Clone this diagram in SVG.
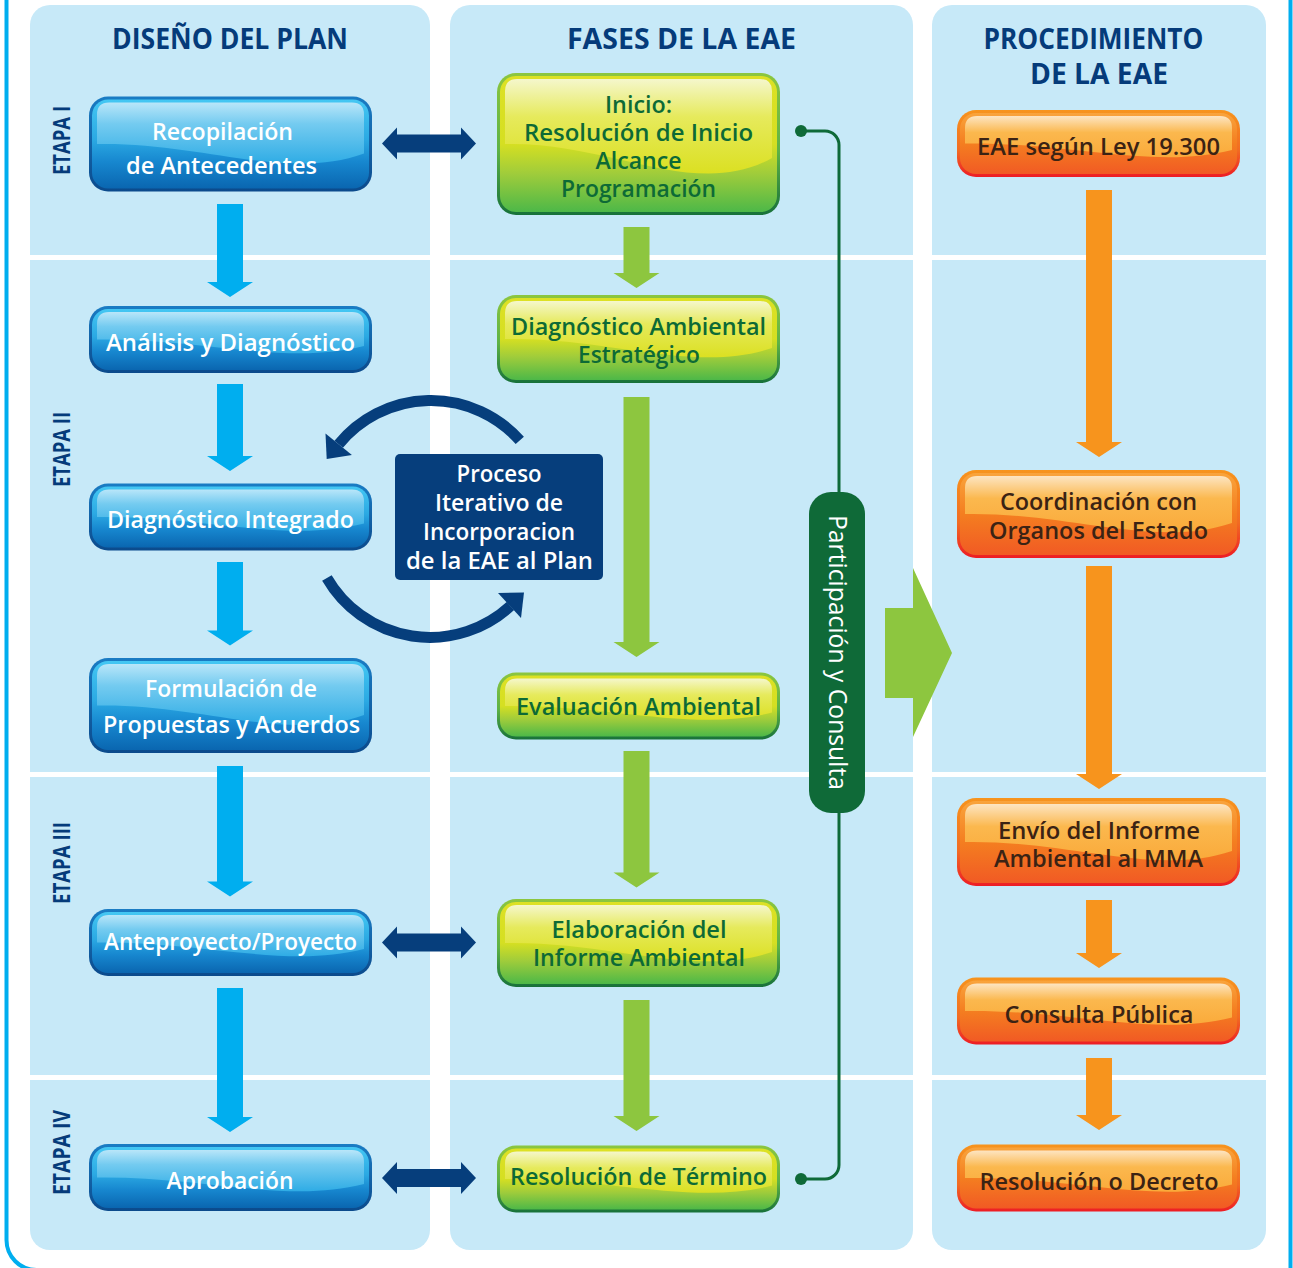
<svg xmlns="http://www.w3.org/2000/svg" xmlns:xlink="http://www.w3.org/1999/xlink" width="1293" height="1268" viewBox="0 0 1293 1268">
  <defs>
    <style>
      .panel{fill:#C7E9F8}
      .sep{fill:#FFFFFF}
      .ttl{font-family:"Open Sans","Liberation Sans",sans-serif;font-weight:700;font-size:28px;fill:#053B7A;text-anchor:middle}
      .etapa{font-family:"Open Sans","Liberation Sans",sans-serif;font-weight:700;font-size:24px;fill:#053B7A;text-anchor:middle}
      .t{font-family:"Open Sans","Liberation Sans",sans-serif;font-weight:600;font-size:24px;text-anchor:middle}
      .tb{fill:#FFFFFF}
      .tg{fill:#0D6A36}
      .to{fill:#3B2314}
      .tw{fill:#FFFFFF;font-size:23px}
      .ab{fill:#00AEEF}
      .ag{fill:#8DC63F}
      .ao{fill:#F7941D}
      .nv{fill:#063E7C}
      .arc{fill:none;stroke:#063E7C;stroke-width:11}
      .brk{fill:none;stroke:#0F6A38;stroke-width:3}
    </style>

    <!-- button colour ramps -->
    <linearGradient id="bEdge" x1="0" y1="0" x2="0" y2="1">
      <stop offset="0" stop-color="#1A7CC4"/><stop offset="1" stop-color="#0B4A8C"/>
    </linearGradient>
    <linearGradient id="bBase" x1="0" y1="0" x2="0" y2="1">
      <stop offset="0" stop-color="#44C7F3"/><stop offset="0.45" stop-color="#2BA9E3"/><stop offset="0.7" stop-color="#1787CF"/><stop offset="1" stop-color="#0A66B0"/>
    </linearGradient>
    <linearGradient id="bUp" x1="0" y1="0" x2="0" y2="1">
      <stop offset="0" stop-color="#B9E6F9"/><stop offset="0.35" stop-color="#74CBF0"/><stop offset="1" stop-color="#2FACE5"/>
    </linearGradient>

    <linearGradient id="gEdge" x1="0" y1="0" x2="0" y2="1">
      <stop offset="0" stop-color="#8CC63F"/><stop offset="0.55" stop-color="#5DB246"/><stop offset="1" stop-color="#17713A"/>
    </linearGradient>
    <linearGradient id="gBase" x1="0" y1="0" x2="0" y2="1">
      <stop offset="0" stop-color="#DDE124"/><stop offset="0.5" stop-color="#D5DF22"/><stop offset="0.72" stop-color="#9FCC3B"/><stop offset="1" stop-color="#4DB848"/>
    </linearGradient>
    <linearGradient id="gUp" x1="0" y1="0" x2="0" y2="1">
      <stop offset="0" stop-color="#F5F7CC"/><stop offset="0.4" stop-color="#E6EA5C"/><stop offset="1" stop-color="#DBE022"/>
    </linearGradient>

    <linearGradient id="oEdge" x1="0" y1="0" x2="0" y2="1">
      <stop offset="0" stop-color="#F7941D"/><stop offset="0.6" stop-color="#F26B22"/><stop offset="1" stop-color="#ED1C24"/>
    </linearGradient>
    <linearGradient id="oBase" x1="0" y1="0" x2="0" y2="1">
      <stop offset="0" stop-color="#F9A43C"/><stop offset="0.5" stop-color="#F47E20"/><stop offset="1" stop-color="#F15A24"/>
    </linearGradient>
    <linearGradient id="oUp" x1="0" y1="0" x2="0" y2="1">
      <stop offset="0" stop-color="#FDE5C2"/><stop offset="0.4" stop-color="#FBB84E"/><stop offset="1" stop-color="#FAAA3A"/>
    </linearGradient>

    <!-- button geometry, one set per height -->
    <rect id="o67" width="283" height="67" rx="19"/>
    <rect id="i67" x="3" y="3" width="277" height="61" rx="16"/>
    <path id="u67" d="M8 33.5V18Q8 6 20 6H263Q275 6 275 18V40C198 60 113 32 8 33.5Z"/>

    <rect id="o88" width="283" height="88" rx="19"/>
    <rect id="i88" x="3" y="3" width="277" height="82" rx="16"/>
    <path id="u88" d="M8 44V18Q8 6 20 6H263Q275 6 275 18V53C198 79 113 42 8 44Z"/>

    <rect id="o95" width="283" height="95" rx="19"/>
    <rect id="i95" x="3" y="3" width="277" height="89" rx="16"/>
    <path id="u95" d="M8 47.5V18Q8 6 20 6H263Q275 6 275 18V57C198 85 113 45.5 8 47.5Z"/>

    <rect id="o142" width="283" height="142" rx="19"/>
    <rect id="i142" x="3" y="3" width="277" height="136" rx="16"/>
    <path id="u142" d="M8 71V18Q8 6 20 6H263Q275 6 275 18V85C198 128 113 68 8 71Z"/>
  </defs>

  <rect width="1293" height="1268" fill="#FFFFFF"/>

  <!-- outer frame: rounded only at the lower left, the rest runs off the page -->
  <path d="M6.5 -5V1240A30 30 0 0 0 36.5 1270H1290.5V-5" fill="none" stroke="#00AEEF" stroke-width="4"/>

  <!-- column panels -->
  <g id="panels">
    <rect class="panel" x="30" y="5" width="400" height="1245" rx="20"/>
    <rect class="panel" x="450" y="5" width="463" height="1245" rx="20"/>
    <rect class="panel" x="932" y="5" width="334" height="1245" rx="20"/>
    <rect class="sep" x="28" y="255" width="1240" height="5"/>
    <rect class="sep" x="28" y="772" width="1240" height="5"/>
    <rect class="sep" x="28" y="1075" width="1240" height="5"/>
  </g>

  <!-- headings -->
  <g id="headings">
    <text class="ttl" x="230" y="48.5" textLength="236" lengthAdjust="spacingAndGlyphs">DISEÑO DEL PLAN</text>
    <text class="ttl" x="681.5" y="48.5" textLength="229" lengthAdjust="spacingAndGlyphs">FASES DE LA EAE</text>
    <text class="ttl" x="1093.5" y="48.5" textLength="220" lengthAdjust="spacingAndGlyphs">PROCEDIMIENTO</text>
    <text class="ttl" x="1099" y="83.5" textLength="138" lengthAdjust="spacingAndGlyphs">DE LA EAE</text>
  </g>

  <!-- stage labels -->
  <g id="etapas">
    <text class="etapa" transform="translate(69.5 140.5) rotate(-90)" textLength="69" lengthAdjust="spacingAndGlyphs">ETAPA I</text>
    <text class="etapa" transform="translate(69.5 449.5) rotate(-90)" textLength="75" lengthAdjust="spacingAndGlyphs">ETAPA II</text>
    <text class="etapa" transform="translate(69.5 863) rotate(-90)" textLength="82" lengthAdjust="spacingAndGlyphs">ETAPA III</text>
    <text class="etapa" transform="translate(69.5 1152.5) rotate(-90)" textLength="85" lengthAdjust="spacingAndGlyphs">ETAPA IV</text>
  </g>

  <!-- connectors -->
  <g id="connectors">
    <!-- plan column -->
    <polygon class="ab" points="217,204 243,204 243,282 253,282 230,297 207,282 217,282"/>
    <polygon class="ab" points="217,384 243,384 243,456 253,456 230,471 207,456 217,456"/>
    <polygon class="ab" points="217,562 243,562 243,630.5 253,630.5 230,645.5 207,630.5 217,630.5"/>
    <polygon class="ab" points="217,766 243,766 243,881.5 253,881.5 230,896.5 207,881.5 217,881.5"/>
    <polygon class="ab" points="217,988 243,988 243,1117 253,1117 230,1132 207,1117 217,1117"/>

    <!-- EAE phases column -->
    <polygon class="ag" points="623.5,227 649.5,227 649.5,273 659.5,273 636.5,288 613.5,273 623.5,273"/>
    <polygon class="ag" points="623.5,397 649.5,397 649.5,642 659.5,642 636.5,657 613.5,642 623.5,642"/>
    <polygon class="ag" points="623.5,751 649.5,751 649.5,872.5 659.5,872.5 636.5,887.5 613.5,872.5 623.5,872.5"/>
    <polygon class="ag" points="623.5,1000 649.5,1000 649.5,1116 659.5,1116 636.5,1131 613.5,1116 623.5,1116"/>

    <!-- procedure column -->
    <polygon class="ao" points="1086,190 1112,190 1112,442 1122,442 1099,457 1076,442 1086,442"/>
    <polygon class="ao" points="1086,566 1112,566 1112,774 1122,774 1099,789 1076,774 1086,774"/>
    <polygon class="ao" points="1086,900 1112,900 1112,953 1122,953 1099,968 1076,953 1086,953"/>
    <polygon class="ao" points="1086,1058 1112,1058 1112,1115 1122,1115 1099,1130 1076,1115 1086,1115"/>

    <!-- two-way links plan <-> EAE -->
    <polygon class="nv" points="382,143.5 397,127.5 397,134.5 461,134.5 461,127.5 476,143.5 461,159.5 461,152.5 397,152.5 397,159.5"/>
    <polygon class="nv" points="382,942.5 397,926.5 397,933.5 461,933.5 461,926.5 476,942.5 461,958.5 461,951.5 397,951.5 397,958.5"/>
    <polygon class="nv" points="382,1178 397,1162 397,1169 461,1169 461,1162 476,1178 461,1194 461,1187 397,1187 397,1194"/>

    <!-- iteration loop -->
    <path class="arc" d="M519.8 440.4A119 119 0 0 0 338.7 444.3"/>
    <polygon class="nv" points="325.5,433.6 351.9,455 326.7,459.1"/>
    <path class="arc" d="M326.9 578A119 119 0 0 0 510.4 606"/>
    <polygon class="nv" points="498,593 521,618 524,592.5"/>

    <!-- participation bracket -->
    <path class="brk" d="M801 131H825A14 14 0 0 1 839 145V1165A14 14 0 0 1 825 1179H801"/>
    <circle cx="801" cy="131" r="6" fill="#0F6A38"/>
    <circle cx="801" cy="1179" r="6" fill="#0F6A38"/>

    <!-- hand-over arrow to procedure -->
    <polygon class="ag" points="885,608 913,608 913,568 952,653 913,737 913,698 885,698"/>
  </g>

  <!-- plan nodes -->
  <g id="n-recopilacion">
    <use xlink:href="#o95" x="89" y="96.5" fill="url(#bEdge)"/>
    <use xlink:href="#i95" x="89" y="96.5" fill="url(#bBase)"/>
    <use xlink:href="#u95" x="89" y="96.5" fill="url(#bUp)"/>
    <text class="t tb" x="222.5" y="139.5" textLength="141" lengthAdjust="spacingAndGlyphs">Recopilación</text>
    <text class="t tb" x="221.5" y="173.5" textLength="191" lengthAdjust="spacingAndGlyphs">de Antecedentes</text>
  </g>
  <g id="n-analisis">
    <use xlink:href="#o67" x="89" y="306" fill="url(#bEdge)"/>
    <use xlink:href="#i67" x="89" y="306" fill="url(#bBase)"/>
    <use xlink:href="#u67" x="89" y="306" fill="url(#bUp)"/>
    <text class="t tb" x="230.5" y="351" textLength="249" lengthAdjust="spacingAndGlyphs">Análisis y Diagnóstico</text>
  </g>
  <g id="n-diag-integrado">
    <use xlink:href="#o67" x="89" y="483.5" fill="url(#bEdge)"/>
    <use xlink:href="#i67" x="89" y="483.5" fill="url(#bBase)"/>
    <use xlink:href="#u67" x="89" y="483.5" fill="url(#bUp)"/>
    <text class="t tb" x="230.5" y="527.5" textLength="247" lengthAdjust="spacingAndGlyphs">Diagnóstico Integrado</text>
  </g>
  <g id="n-formulacion">
    <use xlink:href="#o95" x="89" y="658" fill="url(#bEdge)"/>
    <use xlink:href="#i95" x="89" y="658" fill="url(#bBase)"/>
    <use xlink:href="#u95" x="89" y="658" fill="url(#bUp)"/>
    <text class="t tb" x="231" y="697" textLength="172" lengthAdjust="spacingAndGlyphs">Formulación de</text>
    <text class="t tb" x="231.5" y="732.5" textLength="257" lengthAdjust="spacingAndGlyphs">Propuestas y Acuerdos</text>
  </g>
  <g id="n-anteproyecto">
    <use xlink:href="#o67" x="89" y="909" fill="url(#bEdge)"/>
    <use xlink:href="#i67" x="89" y="909" fill="url(#bBase)"/>
    <use xlink:href="#u67" x="89" y="909" fill="url(#bUp)"/>
    <text class="t tb" x="230.5" y="950" textLength="253" lengthAdjust="spacingAndGlyphs">Anteproyecto/Proyecto</text>
  </g>
  <g id="n-aprobacion">
    <use xlink:href="#o67" x="89" y="1144" fill="url(#bEdge)"/>
    <use xlink:href="#i67" x="89" y="1144" fill="url(#bBase)"/>
    <use xlink:href="#u67" x="89" y="1144" fill="url(#bUp)"/>
    <text class="t tb" x="230" y="1188.5" textLength="127" lengthAdjust="spacingAndGlyphs">Aprobación</text>
  </g>

  <!-- iteration label -->
  <g id="n-iterativo">
    <rect x="395" y="454" width="208" height="126" rx="5" fill="#063E7C"/>
    <text class="t tw" x="499" y="482" textLength="85" lengthAdjust="spacingAndGlyphs">Proceso</text>
    <text class="t tw" x="499" y="511" textLength="128" lengthAdjust="spacingAndGlyphs">Iterativo de</text>
    <text class="t tw" x="499" y="540" textLength="152" lengthAdjust="spacingAndGlyphs">Incorporacion</text>
    <text class="t tw" x="499.5" y="568.5" textLength="187" lengthAdjust="spacingAndGlyphs">de la EAE al Plan</text>
  </g>

  <!-- EAE phase nodes -->
  <g id="n-inicio">
    <use xlink:href="#o142" x="497" y="73" fill="url(#gEdge)"/>
    <use xlink:href="#i142" x="497" y="73" fill="url(#gBase)"/>
    <use xlink:href="#u142" x="497" y="73" fill="url(#gUp)"/>
    <text class="t tg" x="638.5" y="112.5" textLength="67" lengthAdjust="spacingAndGlyphs">Inicio:</text>
    <text class="t tg" x="638.5" y="141" textLength="229" lengthAdjust="spacingAndGlyphs">Resolución de Inicio</text>
    <text class="t tg" x="638.5" y="169" textLength="86" lengthAdjust="spacingAndGlyphs">Alcance</text>
    <text class="t tg" x="638.5" y="196.5" textLength="155" lengthAdjust="spacingAndGlyphs">Programación</text>
  </g>
  <g id="n-diag-ambiental">
    <use xlink:href="#o88" x="497" y="295" fill="url(#gEdge)"/>
    <use xlink:href="#i88" x="497" y="295" fill="url(#gBase)"/>
    <use xlink:href="#u88" x="497" y="295" fill="url(#gUp)"/>
    <text class="t tg" x="638.5" y="334.5" textLength="255" lengthAdjust="spacingAndGlyphs">Diagnóstico Ambiental</text>
    <text class="t tg" x="639" y="362.5" textLength="122" lengthAdjust="spacingAndGlyphs">Estratégico</text>
  </g>
  <g id="n-evaluacion">
    <use xlink:href="#o67" x="497" y="672.5" fill="url(#gEdge)"/>
    <use xlink:href="#i67" x="497" y="672.5" fill="url(#gBase)"/>
    <use xlink:href="#u67" x="497" y="672.5" fill="url(#gUp)"/>
    <text class="t tg" x="638.5" y="715" textLength="245" lengthAdjust="spacingAndGlyphs">Evaluación Ambiental</text>
  </g>
  <g id="n-elaboracion">
    <use xlink:href="#o88" x="497" y="899" fill="url(#gEdge)"/>
    <use xlink:href="#i88" x="497" y="899" fill="url(#gBase)"/>
    <use xlink:href="#u88" x="497" y="899" fill="url(#gUp)"/>
    <text class="t tg" x="639" y="937.5" textLength="175" lengthAdjust="spacingAndGlyphs">Elaboración del</text>
    <text class="t tg" x="639" y="966" textLength="212" lengthAdjust="spacingAndGlyphs">Informe Ambiental</text>
  </g>
  <g id="n-termino">
    <use xlink:href="#o67" x="497" y="1145.5" fill="url(#gEdge)"/>
    <use xlink:href="#i67" x="497" y="1145.5" fill="url(#gBase)"/>
    <use xlink:href="#u67" x="497" y="1145.5" fill="url(#gUp)"/>
    <text class="t tg" x="638.5" y="1185" textLength="257" lengthAdjust="spacingAndGlyphs">Resolución de Término</text>
  </g>

  <!-- participation band -->
  <g id="n-participacion">
    <rect x="809" y="492" width="56" height="321" rx="22" fill="#0F6A38"/>
    <text class="t tb" transform="translate(829 652.5) rotate(90)" textLength="275" lengthAdjust="spacingAndGlyphs" style="font-weight:400;font-size:25px">Participación y Consulta</text>
  </g>

  <!-- procedure nodes -->
  <g id="n-ley">
    <use xlink:href="#o67" x="957" y="110" fill="url(#oEdge)"/>
    <use xlink:href="#i67" x="957" y="110" fill="url(#oBase)"/>
    <use xlink:href="#u67" x="957" y="110" fill="url(#oUp)"/>
    <text class="t to" x="1098.5" y="155" textLength="243" lengthAdjust="spacingAndGlyphs">EAE según Ley 19.300</text>
  </g>
  <g id="n-coordinacion">
    <use xlink:href="#o88" x="957" y="470" fill="url(#oEdge)"/>
    <use xlink:href="#i88" x="957" y="470" fill="url(#oBase)"/>
    <use xlink:href="#u88" x="957" y="470" fill="url(#oUp)"/>
    <text class="t to" x="1098.5" y="510" textLength="197" lengthAdjust="spacingAndGlyphs">Coordinación con</text>
    <text class="t to" x="1098.5" y="538.5" textLength="219" lengthAdjust="spacingAndGlyphs">Organos del Estado</text>
  </g>
  <g id="n-envio">
    <use xlink:href="#o88" x="957" y="798" fill="url(#oEdge)"/>
    <use xlink:href="#i88" x="957" y="798" fill="url(#oBase)"/>
    <use xlink:href="#u88" x="957" y="798" fill="url(#oUp)"/>
    <text class="t to" x="1099" y="838.5" textLength="202" lengthAdjust="spacingAndGlyphs">Envío del Informe</text>
    <text class="t to" x="1098.5" y="866.5" textLength="209" lengthAdjust="spacingAndGlyphs">Ambiental al MMA</text>
  </g>
  <g id="n-consulta">
    <use xlink:href="#o67" x="957" y="977.5" fill="url(#oEdge)"/>
    <use xlink:href="#i67" x="957" y="977.5" fill="url(#oBase)"/>
    <use xlink:href="#u67" x="957" y="977.5" fill="url(#oUp)"/>
    <text class="t to" x="1099" y="1022.5" textLength="189" lengthAdjust="spacingAndGlyphs">Consulta Pública</text>
  </g>
  <g id="n-decreto">
    <use xlink:href="#o67" x="957" y="1144.5" fill="url(#oEdge)"/>
    <use xlink:href="#i67" x="957" y="1144.5" fill="url(#oBase)"/>
    <use xlink:href="#u67" x="957" y="1144.5" fill="url(#oUp)"/>
    <text class="t to" x="1099" y="1190" textLength="239" lengthAdjust="spacingAndGlyphs">Resolución o Decreto</text>
  </g>
</svg>
